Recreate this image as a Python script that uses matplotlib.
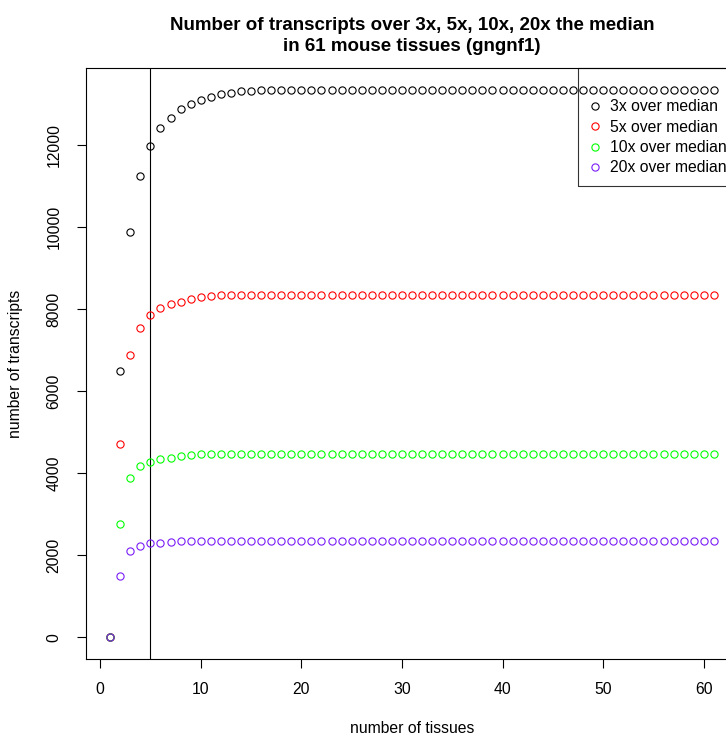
import numpy as np
from matplotlib import pyplot as plt
from matplotlib.lines import Line2D

plt.rcParams['font.family'] = ['Liberation Sans', 'DejaVu Sans']

# number of tissues (x) and transcripts above threshold for each cut-off
tissues = list(range(1, 62))

over3x = [0, 6483, 9890, 11237, 11975, 12422, 12666, 12879, 12993, 13099,
          13180, 13238, 13278, 13311, 13327, 13338, 13343, 13345, 13345, 13345,
          13345, 13345, 13345, 13345, 13345, 13345, 13345, 13345, 13345, 13345,
          13345, 13345, 13345, 13345, 13345, 13345, 13345, 13345, 13345, 13345,
          13345, 13345, 13345, 13345, 13345, 13345, 13345, 13345, 13345, 13345,
          13345, 13345, 13345, 13345, 13345, 13345, 13345, 13345, 13345, 13345,
          13345]
over5x = [0, 4716, 6884, 7535, 7845, 8016, 8113, 8179, 8235, 8284,
          8317, 8333, 8345, 8350, 8350, 8350, 8350, 8350, 8350, 8350,
          8350, 8350, 8350, 8350, 8350, 8350, 8350, 8350, 8350, 8350,
          8350, 8350, 8350, 8350, 8350, 8350, 8350, 8350, 8350, 8350,
          8350, 8350, 8350, 8350, 8350, 8350, 8350, 8350, 8350, 8350,
          8350, 8350, 8350, 8350, 8350, 8350, 8350, 8350, 8350, 8350,
          8350]
over10x = [0, 2770, 3886, 4162, 4260, 4333, 4367, 4406, 4440, 4455,
           4465, 4472, 4472, 4472, 4472, 4472, 4472, 4472, 4472, 4472,
           4472, 4472, 4472, 4472, 4472, 4472, 4472, 4472, 4472, 4472,
           4472, 4472, 4472, 4472, 4472, 4472, 4472, 4472, 4472, 4472,
           4472, 4472, 4472, 4472, 4472, 4472, 4472, 4472, 4472, 4472,
           4472, 4472, 4472, 4472, 4472, 4472, 4472, 4472, 4472, 4472,
           4472]
over20x = [0, 1498, 2094, 2216, 2290, 2305, 2322, 2333, 2338, 2338,
           2338, 2338, 2338, 2338, 2338, 2338, 2338, 2338, 2338, 2338,
           2338, 2338, 2338, 2338, 2338, 2338, 2338, 2338, 2338, 2338,
           2338, 2338, 2338, 2338, 2338, 2338, 2338, 2338, 2338, 2338,
           2338, 2338, 2338, 2338, 2338, 2338, 2338, 2338, 2338, 2338,
           2338, 2338, 2338, 2338, 2338, 2338, 2338, 2338, 2338, 2338,
           2338]

series = [over3x, over5x, over10x, over20x]
labels = ['3x over median', '5x over median', '10x over median', '20x over median']
colors = ['black', '#ff0000', '#00ff00', '#7a1cf5']
xticks = [0, 10, 20, 30, 40, 50, 60]
yticks = [0, 2000, 4000, 6000, 8000, 10000, 12000]
cutoff = 5

fs = 11.3

fig = plt.figure(figsize=(7.26, 7.35), dpi=100)
# plot region runs past the right edge of the picture, like the original
ax = fig.add_axes([86/726, 1-659/735, (738-86)/726, (659-68)/735])

handles = [Line2D([], [], linestyle='none')]   # empty first legend row
for vals, lab, col in zip(series, labels, colors):
	h, = ax.plot(tissues, vals, linestyle='none', marker='o', ms=5.2, mfc='none',
	             mec=col, mew=0.8, label=lab, zorder=3)
	handles.append(h)

ax.axvline(cutoff, color='black', lw=0.8)

# R style 4% padding
xr = max(tissues) - min(tissues)
ymax = max(max(s) for s in series)
ax.set_xlim(min(tissues) - 0.04*xr, max(tissues) + 0.04*xr)
ax.set_ylim(-0.04*ymax, ymax*1.04)

ax.set_xticks(xticks)
ax.set_yticks(yticks)
ax.set_yticklabels([str(v) for v in yticks], rotation=90, va='center')
ax.tick_params(direction='out', length=6.5, width=0.8, labelsize=fs, pad=10)
ax.tick_params(axis='y', pad=11)
for sp in ax.spines.values():
	sp.set_linewidth(0.8)

ax.set_xlabel('number of tissues', fontsize=fs, labelpad=17)
ax.set_ylabel('number of transcripts', fontsize=fs, labelpad=17)
ax.set_title('Number of transcripts over 3x, 5x, 10x, 20x the median\nin 61 mouse tissues (gngnf1)',
             fontsize=13.5, fontweight='bold', pad=12, linespacing=1.3)

leg = ax.legend(handles, [' '] + labels, loc='upper right', bbox_to_anchor=(1, 1),
                borderaxespad=0, fancybox=False, edgecolor='black', facecolor='none',
                fontsize=fs, labelspacing=0.34, handlelength=0.8,
                handletextpad=0.56, borderpad=0.7)
leg.get_frame().set_linewidth(0.8)
leg.set_zorder(2)

plt.savefig('out.png', dpi=100)
plt.close()
